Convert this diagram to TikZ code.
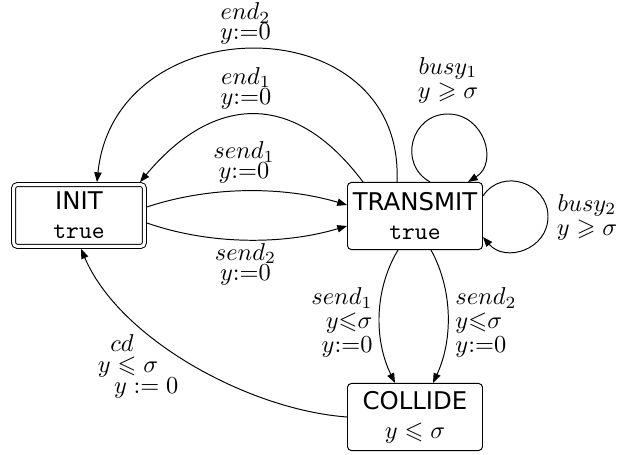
\documentclass[tikz,border=0pt]{standalone}
\usepackage{amssymb}
\usepackage{fontspec}
\newfontfamily\nodesf{DejaVu Sans}
\usetikzlibrary{arrows.meta,calc}
\newcommand\lblsp[1]{\baselineskip=#1\relax\lineskiplimit=-100pt\relax\lineskip=0pt\relax}
\begin{document}
\begin{tikzpicture}[x=0.41pt,y=-0.41pt,
  state/.style={draw, rounded corners=1.6pt, minimum width=55.35pt, minimum height=27.5pt,
    inner sep=0pt, align=center, font=\nodesf},
  edge/.style={-{Triangle[length=4pt,width=3pt]}},
  lbl/.style={inner sep=0pt, font=\lblsp{#1}},
  lbl/.default=8.2pt,
]
\useasboundingbox (0,0) rectangle (617,455);

\node[state, double, double distance=1.24pt, minimum width=53.7pt, minimum height=25.4pt,
  outer sep=1.0pt] (init) at (79,215.5) {INIT\\{\ttfamily true}};
\node[state] (transmit) at (415,216) {TRANSMIT\\{\ttfamily true}};
\node[state] (collide) at (415,417) {COLLIDE\\$y \leqslant \sigma$};

\draw[edge] ($(init.east)+(0,-8.5)$) .. controls (210,186) and (283,186) .. ($(transmit.west)+(0,-11)$);
\draw[edge] ($(init.east)+(0,7.5)$) .. controls (210,245) and (283,245) .. ($(transmit.west)+(0,10)$);
\draw[edge] ($(transmit.north)+(-52,0)$) .. controls (291,86) and (210,98) .. ($(init.north)+(61,0)$);
\draw[edge] ($(transmit.north)+(-18,0)$) .. controls (405,5) and (115,5) .. ($(init.north)+(18,0)$);
\draw[edge] ($(transmit.north)+(15,0)$) .. controls (397.7,163.9) and (411,114) .. (448,114)
  .. controls (484.2,114) and (498.8,162.8) .. ($(transmit.north)+(53,0)$);
\draw[edge] ($(transmit.east)+(0,-20)$) .. controls (502,167) and (548,183) .. (548,216.5)
  .. controls (548,250) and (505,263) .. ($(transmit.east)+(0,21)$);
\draw[edge] ($(transmit.south)+(-17,0)$) .. controls (374,290) and (374,340) .. ($(collide.north)+(-20,0)$);
\draw[edge] ($(transmit.south)+(16,0)$) .. controls (453,290) and (453,340) .. ($(collide.north)+(18,0)$);
\draw[edge] (collide.west) .. controls (250,410) and (120,340) .. ($(init.south)+(2,0)$);

\node[lbl, align=center] (lend2) at (245.5,23.5) {$end_2$\\$y{:=}0$};
\node[lbl, align=center] (lend1) at (246,88) {$end_1$\\$y{:=}0$};
\node[lbl, align=center] (lsend1) at (244,162.5) {$send_1$\\$y{:=}0$};
\node[lbl, align=center] (lsend2) at (245.5,264) {$send_2$\\$y{:=}0$};
\node[lbl=9.8pt, align=center] (lbusy1) at (448,80) {$busy_1$\\$y \geqslant \sigma$};
\node[lbl=9.8pt, align=center] (lbusy2) at (587,217) {$busy_2$\\$y \geqslant \sigma$};
\node[lbl=9.8pt, align=right, anchor=east] (lc1) at (373,322.5) {$send_1$\\$y{\leqslant}\sigma$\\$y{:=}0$};
\node[lbl=9.8pt, align=left, anchor=west] (lc2) at (455,322.5) {$send_2$\\$y{\leqslant}\sigma$\\$y{:=}0$};
\node[lbl=8.6pt, align=center] (lcd) at (128,366) {$cd$\hbox to 5pt{}\\$y \leqslant \sigma$\\\hbox to 15pt{}$y := 0$};
\end{tikzpicture}
\end{document}
